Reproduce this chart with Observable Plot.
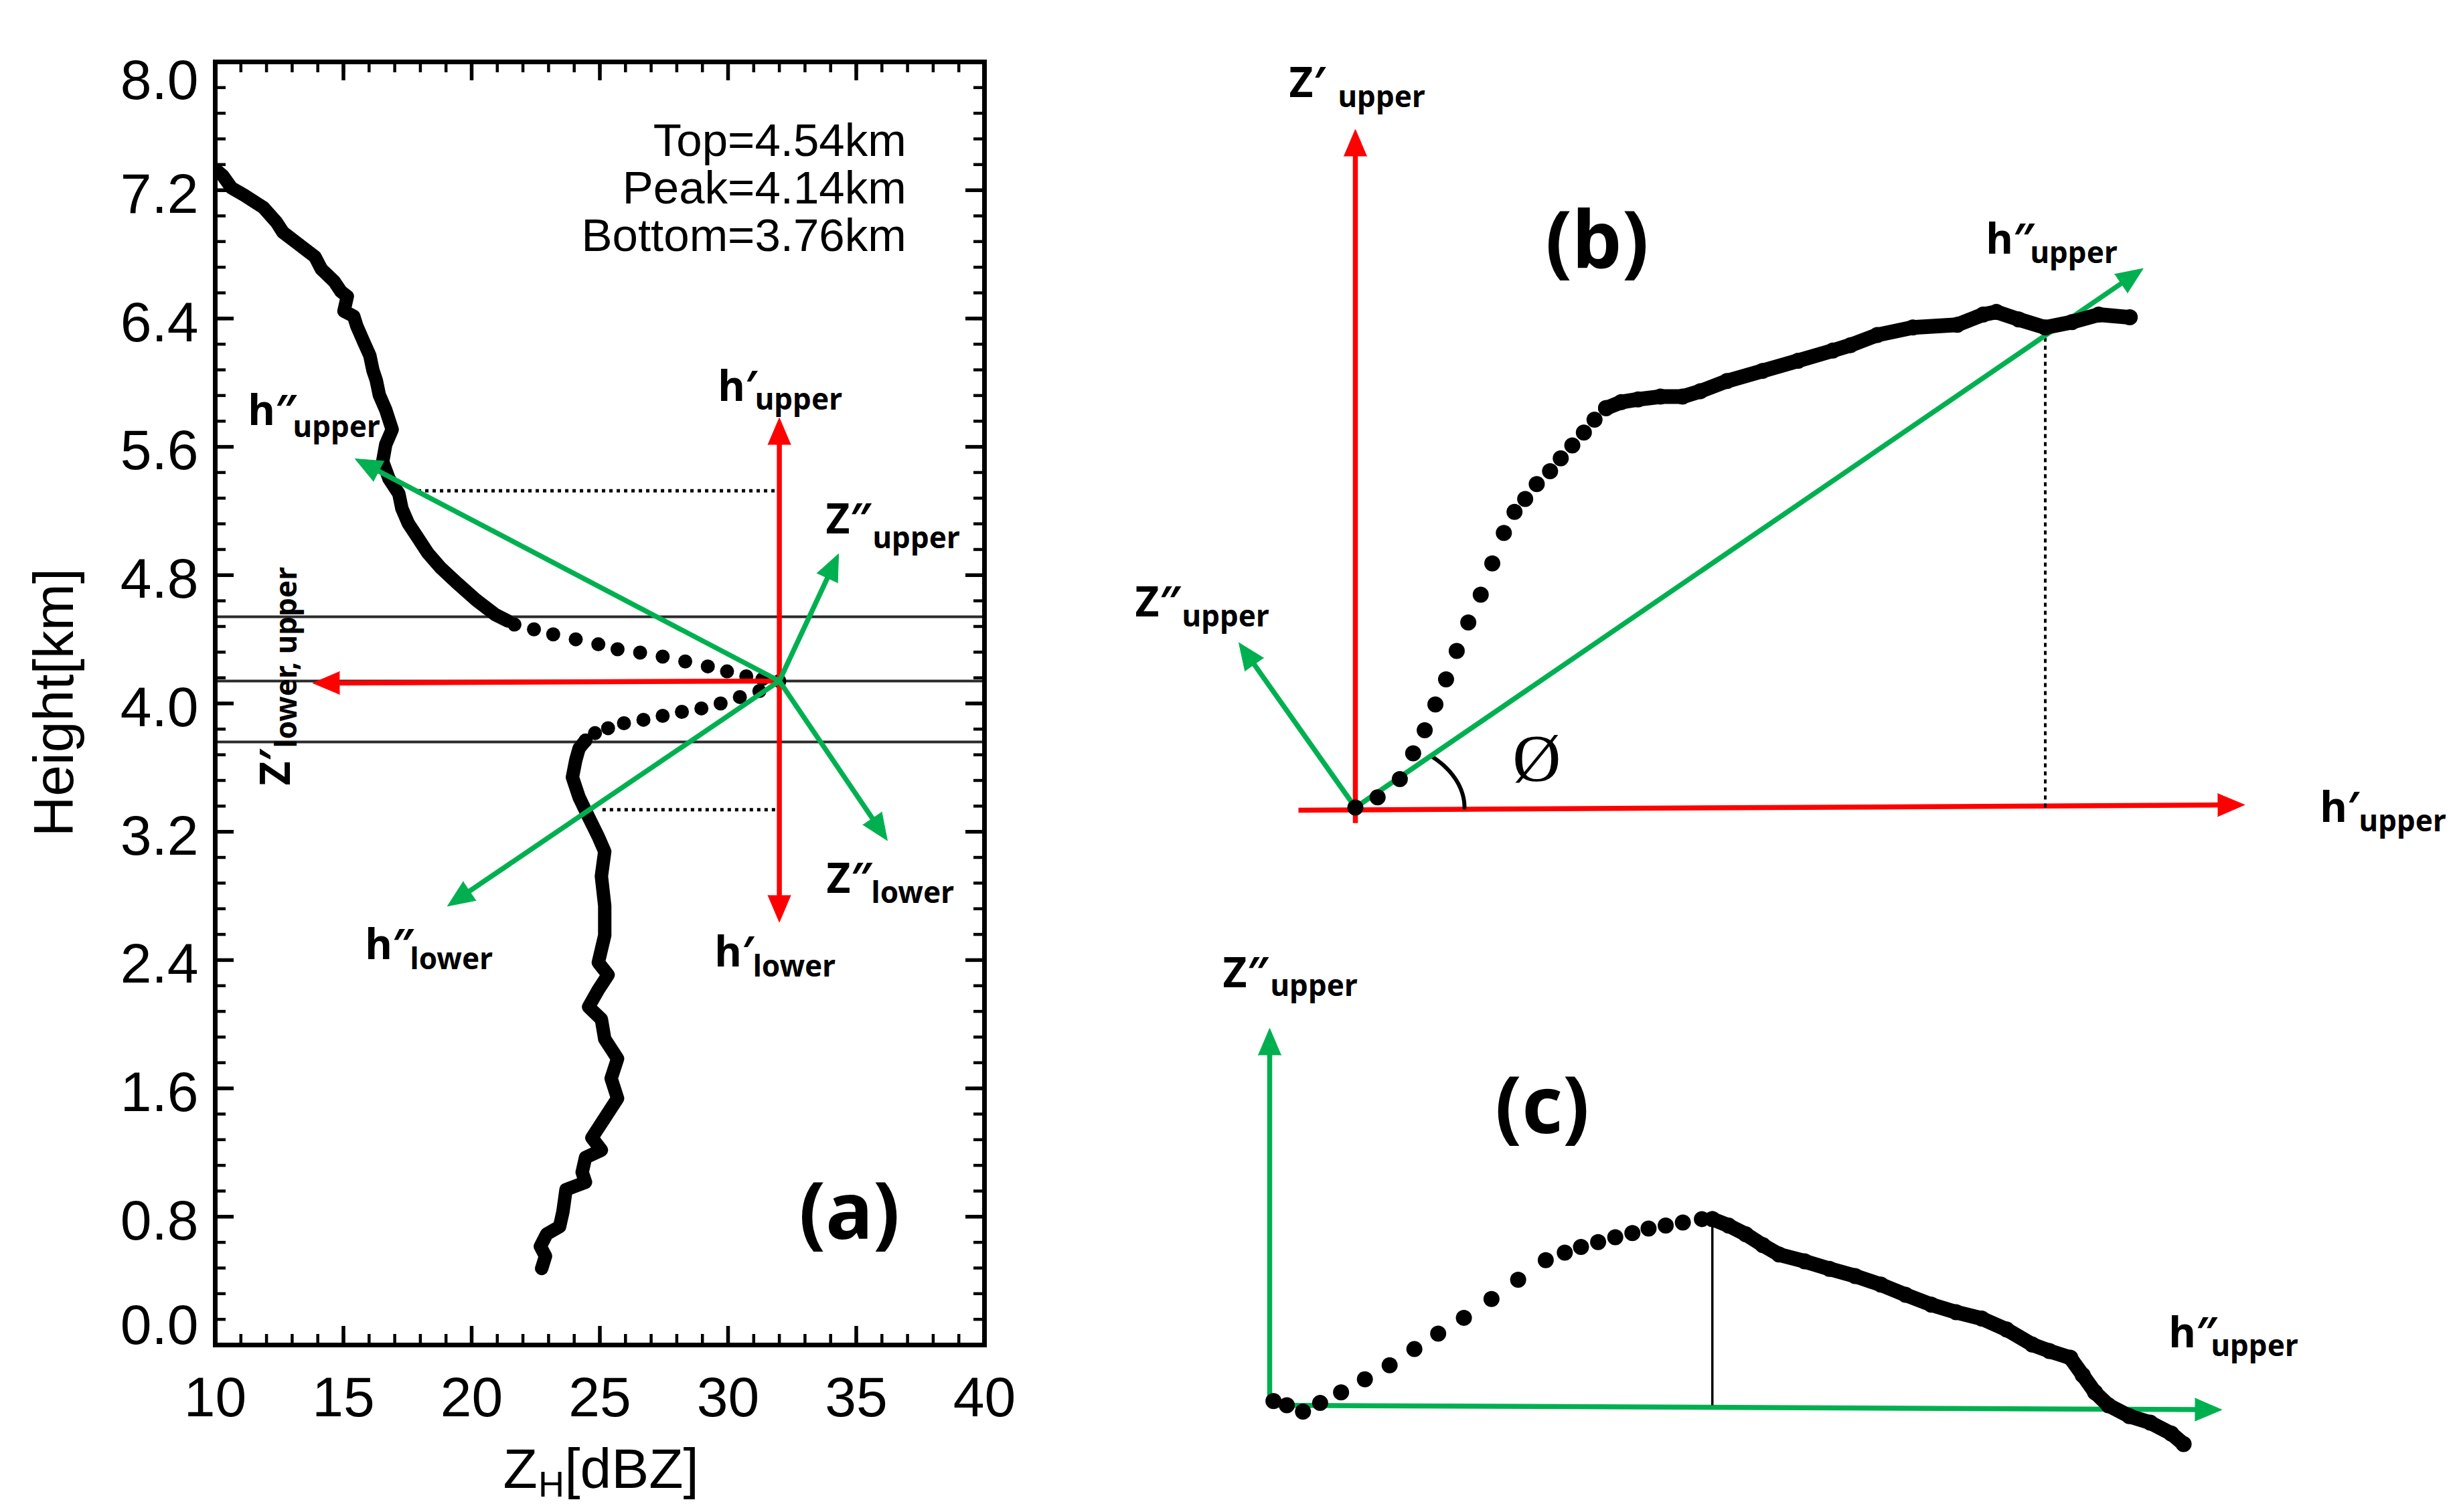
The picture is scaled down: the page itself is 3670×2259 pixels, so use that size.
<!DOCTYPE html>
<html><head><meta charset="utf-8">
<script src="https://cdn.jsdelivr.net/npm/d3@7"></script>
<script src="https://cdn.jsdelivr.net/npm/@observablehq/plot@0.6"></script>
<style>
html,body{margin:0;padding:0;background:#fff;}
#wrap{position:relative;width:3670px;height:2259px;overflow:hidden;background:#fff;}
#wrap svg{position:absolute;left:0;top:0;}
</style></head><body><div id="wrap"></div>
<script>
// ---------------- DATA ----------------
// Panel (a): ZH profile (dBZ, km)
const xTicksMajor = [10, 15, 20, 25, 30, 35, 40];
const xTickLabels = ["10", "15", "20", "25", "30", "35", "40"];
const yTicksMajor = [0, 0.8, 1.6, 2.4, 3.2, 4.0, 4.8, 5.6, 6.4, 7.2, 8.0];
const yTickLabels = ["0.0", "0.8", "1.6", "2.4", "3.2", "4.0", "4.8", "5.6", "6.4", "7.2", "8.0"];
const xTicksMinor = d3.range(10, 40.001, 1);
const yTicksMinor = d3.range(0, 8.001, 0.16);

const layerHeights = [4.54, 4.14, 3.76];           // Top, Peak, Bottom
const statsText = ["Top=4.54km", "Peak=4.14km", "Bottom=3.76km"];
const statsAnchor = {x: 36.95, y: 6.82};

const profileUpper = [[10.0,7.33],[10.3,7.29],[10.63,7.215],[11.13,7.169],[11.88,7.092],[12.39,7.000],[12.64,6.938],[13.14,6.877],[13.89,6.785],[14.14,6.708],[14.64,6.631],[14.90,6.569],[15.15,6.538],[15.02,6.446],[15.40,6.415],[15.52,6.354],[15.77,6.262],[16.03,6.169],[16.15,6.077],[16.28,6.015],[16.40,5.923],[16.65,5.831],[16.90,5.708],[16.65,5.615],[16.53,5.508],[16.78,5.400],[17.16,5.308],[17.28,5.215],[17.53,5.123],[17.91,5.031],[18.29,4.938],[18.79,4.846],[19.41,4.754],[20.17,4.646],[20.92,4.554],[21.42,4.514]];
const profileDots = [[21.67,4.492],[22.43,4.462],[23.18,4.431],[24.06,4.400],[24.94,4.369],[25.69,4.338],[26.57,4.317],[27.45,4.292],[28.33,4.262],[29.21,4.231],[29.96,4.200],[30.71,4.169],[31.34,4.152],[32.0,4.14],[31.22,4.077],[30.46,4.040],[29.71,4.000],[28.96,3.969],[28.20,3.948],[27.45,3.923],[26.70,3.898],[25.94,3.877],[25.32,3.846],[24.81,3.815],[24.44,3.769]];
const profileLower = [[24.44,3.769],[24.19,3.72],[24.06,3.646],[23.93,3.54],[24.19,3.415],[24.56,3.292],[24.94,3.169],[25.19,3.077],[25.06,2.923],[25.19,2.738],[25.19,2.554],[24.94,2.385],[25.32,2.308],[24.94,2.215],[24.56,2.108],[25.06,2.031],[25.19,1.908],[25.69,1.785],[25.44,1.662],[25.69,1.538],[25.19,1.415],[24.69,1.292],[25.06,1.215],[24.44,1.169],[24.31,1.077],[24.44,1.015],[23.68,0.969],[23.56,0.831],[23.43,0.738],[22.93,0.692],[22.68,0.615],[22.88,0.554],[22.73,0.477]];

const peakA = [32.0, 4.14];
const redTipsA = [[32.0, 5.78], [32.0, 2.637], [13.81, 4.127]];
const greenTipsA = [[15.46, 5.525], [19.06, 2.737], [34.31, 4.932], [36.21, 3.146]];
const dottedA = [[17.9, 5.326, 32.0, 5.326], [25.1, 3.338, 32.0, 3.338]];

const labelsMainA = [
  {t: "h′", x: 29.61, y: 5.888}, {t: "h″", x: 11.28, y: 5.734}, {t: "Z″", x: 33.81, y: 5.058},
  {t: "Z″", x: 33.84, y: 2.817}, {t: "h″", x: 15.85, y: 2.404}, {t: "h′", x: 29.48, y: 2.358}
];
const labelsSubA = [
  {t: "upper", x: 31.05, y: 5.830}, {t: "upper", x: 13.03, y: 5.663}, {t: "upper", x: 35.64, y: 4.970},
  {t: "lower", x: 35.59, y: 2.758}, {t: "lower", x: 17.60, y: 2.345}, {t: "lower", x: 30.97, y: 2.299}
];
const vertLabelA = {main: "Z′", sub: "lower, upper", x: 12.90, y: 3.489, subX: 13.185, subY: 3.722};

// Panel (b): upper part, axes h'upper (u) and Z'upper (v), normalised 0..1
const curveBSparse = [[0,0],[0.025,0.015],[0.050,0.042],[0.065,0.080],[0.078,0.114],[0.090,0.152],[0.102,0.189],[0.114,0.231],[0.127,0.273],[0.141,0.314],[0.154,0.360],[0.167,0.405],[0.179,0.436],[0.191,0.455],[0.204,0.477],[0.219,0.496],[0.231,0.515],[0.244,0.534],[0.257,0.553],[0.269,0.572],[0.282,0.589]];
const curveBDense = [[0.282,0.589],[0.299,0.598],[0.318,0.602],[0.343,0.606],[0.368,0.606],[0.388,0.614],[0.418,0.629],[0.458,0.644],[0.498,0.659],[0.537,0.674],[0.557,0.682],[0.587,0.697],[0.627,0.708],[0.677,0.712],[0.706,0.727],[0.721,0.731],[0.746,0.720],[0.776,0.708],[0.806,0.716],[0.836,0.727],[0.871,0.723]];
const redAxesB = [[0, -0.023, 0, 1], [-0.064, -0.004, 1, 0.004]];
const greenArrowsB = [[0, 0, 0.886, 0.795], [0, 0, -0.131, 0.243]];
const dottedB = [[0.776, 0, 0.776, 0.708]];
const angleArcB = {a: 163, b: 107, sweep: 46.1};   // pixel semi-axes of the angle mark
const labelsMainB = [{t: "Z′", x: -0.0745, y: 1.0474}, {t: "h″", x: 0.7093, y: 0.8164}, {t: "Z″", x: -0.2477, y: 0.2823}, {t: "h′", x: 1.0851, y: -0.0217}];
const labelsSubB = [{t: "upper", x: -0.0196, y: 1.0326}, {t: "upper", x: 0.7590, y: 0.8026}, {t: "upper", x: -0.1950, y: 0.2675}, {t: "upper", x: 1.1288, y: -0.0355}];
const phiB = {t: "Ø", x: 0.204, y: 0.072};
const panelB = {t: "(b)", x: 0.2718, y: 0.7966};

// Panel (c): rotated upper part, axes h''upper (u) and Z''upper (v)
const curveCSparse = [[0.004,0.011],[0.018,0.0],[0.035,-0.017],[0.053,0.006],[0.075,0.034],[0.100,0.069],[0.126,0.106],[0.152,0.149],[0.177,0.190],[0.204,0.232],[0.233,0.282],[0.261,0.333],[0.290,0.385],[0.310,0.405],[0.327,0.420],[0.345,0.433],[0.363,0.446],[0.381,0.457],[0.398,0.469],[0.416,0.477],[0.434,0.485],[0.454,0.494],[0.465,0.494]];
const curveCDense = [[0.465,0.494],[0.482,0.477],[0.500,0.454],[0.518,0.425],[0.535,0.400],[0.562,0.382],[0.588,0.362],[0.615,0.343],[0.642,0.320],[0.668,0.293],[0.695,0.267],[0.721,0.247],[0.748,0.230],[0.774,0.201],[0.801,0.161],[0.819,0.144],[0.841,0.126],[0.854,0.080],[0.867,0.034],[0.881,0.000],[0.903,-0.029],[0.925,-0.046],[0.947,-0.075],[0.960,-0.103]];
const greenAxesC = [[0, 0, 0, 1], [0, 0, 1, -0.012]];
const peakLineC = [[0.465, 0, 0.465, 0.494]];
const labelsMainC = [{t: "Z″", x: -0.0492, y: 1.1101}, {t: "h″", x: 0.9444, y: 0.1545}];
const labelsSubC = [{t: "upper", x: 0.0007, y: 1.0853}, {t: "upper", x: 0.9887, y: 0.1297}];
const panelC = {t: "(c)", x: 0.2862, y: 0.7229};

// ---------------- STYLE ----------------
const RED = "#ff0000", GREEN = "#00b050";
const LFONT = "'Noto Sans', 'DejaVu Sans', sans-serif";
const AFONT = "'Liberation Sans', Arial, sans-serif";
const W = 3670, H = 2259;
const A = {left: 321, right: 1470, top: 92, bottom: 2009};
const B = {x: [2024, 3352], y: [1206, 193]};
const C = {x: [1896, 3318], y: [2099, 1536]};

function arrowMarks(list, sx, sy, color, width = 7.5, L = 40, R = 17) {
  const links = [], heads = [];
  for (const [x1, y1, x2, y2] of list) {
    const px1 = sx(x1), py1 = sy(y1), px2 = sx(x2), py2 = sy(y2);
    const dx = px2 - px1, dy = py2 - py1, len = Math.hypot(dx, dy);
    const bx = px2 - dx / len * L * 0.7, by = py2 - dy / len * L * 0.7;
    links.push({x1, y1, x2: sx.invert(bx), y2: sy.invert(by)});
    heads.push({x: x2, y: y2, rotate: Math.atan2(dx, -dy) * 180 / Math.PI});
  }
  return [
    Plot.link(links, {x1: "x1", y1: "y1", x2: "x2", y2: "y2", stroke: color, strokeWidth: width}),
    Plot.vector(heads, {x: "x", y: "y", rotate: "rotate", length: L, r: R, shape: "spike", anchor: "end", fill: color, stroke: color, strokeWidth: 1})
  ];
}
function labelMarks(main, sub, opt = {}) {
  return [
    Plot.text(main, {x: "x", y: "y", text: "t", textAnchor: "start", lineAnchor: "bottom", fontSize: 62, fontWeight: "bold", fontFamily: LFONT, fill: "black", ...opt}),
    Plot.text(sub, {x: "x", y: "y", text: "t", textAnchor: "start", lineAnchor: "bottom", fontSize: 44, fontWeight: "bold", fontFamily: LFONT, fill: "black", ...opt})
  ];
}
const wrap = document.getElementById("wrap");
const baseStyle = "background: transparent; overflow: visible;";

// ---------------- PANEL (a) ----------------
{
  const sx = d3.scaleLinear([10, 40], [A.left, A.right]);
  const sy = d3.scaleLinear([0, 8], [A.bottom, A.top]);
  const kY = (A.bottom - A.top) / 8, kX = (A.right - A.left) / 30;
  const majL = 28, minL = 16;
  const ticks = (vals, len, sw) => [
    Plot.ruleX(vals, {x: d => d, y1: () => 0, y2: () => len / kY, stroke: "black", strokeWidth: sw}),
    Plot.ruleX(vals, {x: d => d, y1: () => 8 - len / kY, y2: () => 8, stroke: "black", strokeWidth: sw})
  ];
  const ticksY = (vals, len, sw) => [
    Plot.ruleY(vals, {y: d => d, x1: () => 10, x2: () => 10 + len / kX, stroke: "black", strokeWidth: sw}),
    Plot.ruleY(vals, {y: d => d, x1: () => 40 - len / kX, x2: () => 40, stroke: "black", strokeWidth: sw})
  ];
  const arrowsRed = redTipsA.map(t => [peakA[0], peakA[1], t[0], t[1]]);
  const arrowsGreen = greenTipsA.map(t => [peakA[0], peakA[1], t[0], t[1]]);
  const yLab = (i) => yTickLabels[i];
  const TF = {fontSize: 84, fontFamily: AFONT, fill: "black"};
  const plot = Plot.plot({
    width: W, height: H,
    marginLeft: A.left, marginRight: W - A.right, marginTop: A.top, marginBottom: H - A.bottom,
    x: {domain: [10, 40], axis: null},
    y: {domain: [0, 8], axis: null},
    style: baseStyle,
    marks: [
      Plot.ruleY(layerHeights, {y: d => d, x1: () => 10, x2: () => 40, stroke: "#2a2a2a", strokeWidth: 4}),
      ...ticks(xTicksMinor, minL, 4.5), ...ticks(xTicksMajor, majL, 5.5),
      ...ticksY(yTicksMinor, minL, 4.5), ...ticksY(yTicksMajor, majL, 5.5),
      Plot.line(profileUpper, {x: d => d[0], y: d => d[1], stroke: "black", strokeWidth: 20, strokeLinejoin: "round", strokeLinecap: "round", clip: true}),
      Plot.line(profileLower, {x: d => d[0], y: d => d[1], stroke: "black", strokeWidth: 20, strokeLinejoin: "round", strokeLinecap: "round", clip: true}),
      Plot.dot(profileDots, {x: d => d[0], y: d => d[1], r: 10.5, fill: "black", stroke: "none"}),
      Plot.link(dottedA, {x1: d => d[0], y1: d => d[1], x2: d => d[2], y2: d => d[3], stroke: "black", strokeWidth: 5, strokeDasharray: "5,6"}),
      ...arrowMarks(arrowsRed, sx, sy, RED),
      ...arrowMarks(arrowsGreen, sx, sy, GREEN),
      Plot.frame({stroke: "black", strokeWidth: 7}),
      // tick labels
      Plot.text(xTicksMajor, {x: d => d, y: () => 0, text: (d, i) => xTickLabels[i], dy: 80, lineAnchor: "middle", textAnchor: "middle", ...TF}),
      Plot.text(yTicksMajor, {filter: (d, i) => i > 0 && i < 10, x: () => 10, y: d => d, text: (d, i) => yLab(i), dx: -25, dy: 7, textAnchor: "end", lineAnchor: "middle", ...TF}),
      Plot.text(yTicksMajor, {filter: (d, i) => i === 10, x: () => 10, y: d => d, text: (d, i) => yLab(i), dx: -25, dy: 29, textAnchor: "end", lineAnchor: "middle", ...TF}),
      Plot.text(yTicksMajor, {filter: (d, i) => i === 0, x: () => 10, y: d => d, text: (d, i) => yLab(i), dx: -25, dy: -28, textAnchor: "end", lineAnchor: "middle", ...TF}),
      // axis titles
      Plot.text(["Height[km]"], {x: () => 4.44, y: () => 4.006, text: d => d, rotate: -90, textAnchor: "middle", lineAnchor: "bottom", fontSize: 84, fontFamily: AFONT, fill: "black"}),
      Plot.text(["Z"], {x: () => 21.23, y: () => -0.889, text: d => d, textAnchor: "start", lineAnchor: "bottom", fontSize: 84, fontFamily: AFONT, fill: "black"}),
      Plot.text(["H"], {x: () => 22.60, y: () => -0.947, text: d => d, textAnchor: "start", lineAnchor: "bottom", fontSize: 54, fontFamily: AFONT, fill: "black"}),
      Plot.text(["[dBZ]"], {x: () => 23.62, y: () => -0.889, text: d => d, textAnchor: "start", lineAnchor: "bottom", fontSize: 84, fontFamily: AFONT, fill: "black"}),
      // stats (one multi-line text)
      Plot.text([statsText.join("\n")], {x: () => statsAnchor.x, y: () => statsAnchor.y, text: d => d, textAnchor: "end", lineAnchor: "bottom", lineHeight: 1.03, fontSize: 69, fontFamily: AFONT, fill: "black"}),
      // labels
      ...labelMarks(labelsMainA, labelsSubA),
      Plot.text([vertLabelA], {x: "x", y: "y", text: "main", rotate: -90, textAnchor: "start", lineAnchor: "bottom", fontSize: 62, fontWeight: "bold", fontFamily: LFONT, fill: "black"}),
      Plot.text([vertLabelA], {x: "subX", y: "subY", text: "sub", rotate: -90, textAnchor: "start", lineAnchor: "bottom", fontSize: 44, fontWeight: "bold", fontFamily: LFONT, fill: "black"}),
      Plot.text(["(a)"], {x: () => 34.73, y: () => 0.663, text: d => d, textAnchor: "middle", lineAnchor: "bottom", fontSize: 118, fontWeight: "bold", fontFamily: LFONT, fill: "black"})
    ]
  });
  wrap.appendChild(plot);
}

// ---------------- PANEL (b) ----------------
{
  const sx = d3.scaleLinear([0, 1], B.x);
  const sy = d3.scaleLinear([0, 1], B.y);
  const kx = B.x[1] - B.x[0], ky = B.y[0] - B.y[1];
  const arc = d3.range(0, angleArcB.sweep + 0.01, angleArcB.sweep / 30).map(t => [
    angleArcB.a * Math.cos(t * Math.PI / 180) / kx,
    angleArcB.b * Math.sin(t * Math.PI / 180) / ky
  ]);
  const plot = Plot.plot({
    width: W, height: H, margin: 0,
    x: {domain: [0, 1], range: B.x, axis: null},
    y: {domain: [0, 1], range: B.y, axis: null},
    style: baseStyle,
    marks: [
      ...arrowMarks(redAxesB, sx, sy, RED, 7.5),
      Plot.link(dottedB, {x1: d => d[0], y1: d => d[1], x2: d => d[2], y2: d => d[3], stroke: "black", strokeWidth: 4, strokeDasharray: "6,6"}),
      Plot.line(arc, {x: d => d[0], y: d => d[1], stroke: "black", strokeWidth: 6}),
      ...arrowMarks(greenArrowsB, sx, sy, GREEN, 7.5),
      Plot.line(curveBDense, {x: d => d[0], y: d => d[1], stroke: "black", strokeWidth: 22, strokeLinejoin: "round", strokeLinecap: "round"}),
      Plot.dot(curveBDense, {x: d => d[0], y: d => d[1], r: 12, fill: "black", stroke: "none"}),
      Plot.dot(curveBSparse, {x: d => d[0], y: d => d[1], r: 12, fill: "black", stroke: "none"}),
      ...labelMarks(labelsMainB, labelsSubB),
      Plot.text([phiB], {x: "x", y: "y", text: "t", textAnchor: "middle", lineAnchor: "middle", fontSize: 100, fontFamily: "'Liberation Serif', 'DejaVu Serif', serif", fill: "black"}),
      Plot.text([panelB], {x: "x", y: "y", text: "t", textAnchor: "middle", lineAnchor: "bottom", fontSize: 118, fontWeight: "bold", fontFamily: LFONT, fill: "black"})
    ]
  });
  wrap.appendChild(plot);
}

// ---------------- PANEL (c) ----------------
{
  const sx = d3.scaleLinear([0, 1], C.x);
  const sy = d3.scaleLinear([0, 1], C.y);
  const plot = Plot.plot({
    width: W, height: H, margin: 0,
    x: {domain: [0, 1], range: C.x, axis: null},
    y: {domain: [0, 1], range: C.y, axis: null},
    style: baseStyle,
    marks: [
      ...arrowMarks(greenAxesC, sx, sy, GREEN, 7.5),
      Plot.link(peakLineC, {x1: d => d[0], y1: d => d[1], x2: d => d[2], y2: d => d[3], stroke: "black", strokeWidth: 3.5}),
      Plot.line(curveCDense, {x: d => d[0], y: d => d[1], stroke: "black", strokeWidth: 22, strokeLinejoin: "round", strokeLinecap: "round"}),
      Plot.dot(curveCDense, {x: d => d[0], y: d => d[1], r: 12, fill: "black", stroke: "none"}),
      Plot.dot(curveCSparse, {x: d => d[0], y: d => d[1], r: 12, fill: "black", stroke: "none"}),
      ...labelMarks(labelsMainC, labelsSubC),
      Plot.text([panelC], {x: "x", y: "y", text: "t", textAnchor: "middle", lineAnchor: "bottom", fontSize: 118, fontWeight: "bold", fontFamily: LFONT, fill: "black"})
    ]
  });
  wrap.appendChild(plot);
}
</script></body></html>
